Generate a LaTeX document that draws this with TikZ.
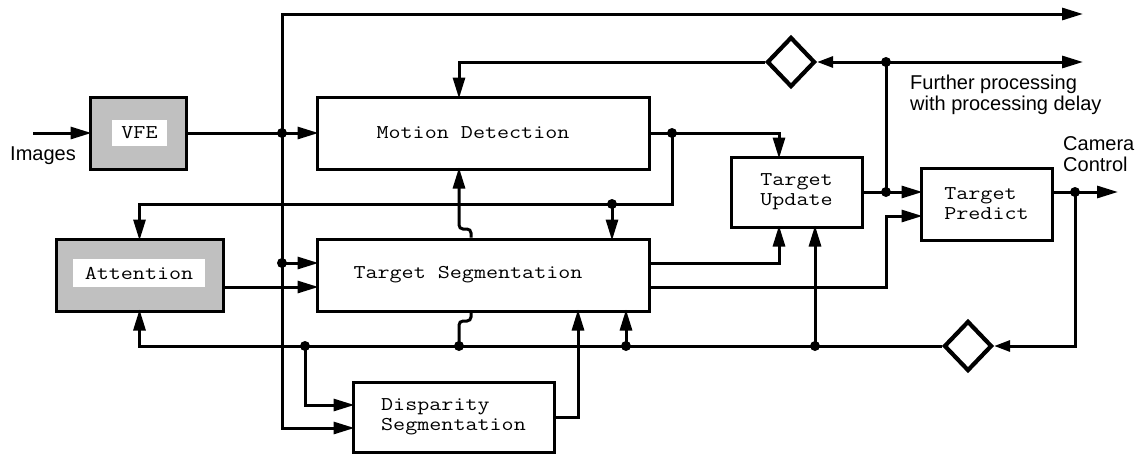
\documentclass[tikz,border=0pt]{standalone}
\usepackage{fontspec}
\setmainfont{Liberation Sans}
\setmonofont{Latin Modern Mono}[FakeStretch=1.2]
\usetikzlibrary{arrows.meta,shapes.geometric,calc}
\definecolor{boxgray}{RGB}{192,192,192}
\begin{document}
\begin{tikzpicture}[x=1pt,y=-1pt,
  blk/.style={draw,line width=3pt,rectangle,inner sep=0pt,fill=white,
    font=\ttfamily\fontsize{19.5}{20}\selectfont,align=center},
  gblk/.style={blk,fill=boxgray},
  lbl/.style={fill=white,inner sep=0pt,font=\ttfamily\fontsize{19.5}{20}\selectfont},
  conn/.style={line width=3pt},
  arr/.style={conn,-{Triangle[length=21pt,width=12pt]},shorten >=-3pt},
  sarr/.style={conn,-{Triangle[length=16pt,width=11pt]}},
  dia/.style={draw,diamond,line width=4.2pt,minimum width=48pt,minimum height=50pt,inner sep=0pt,fill=white},
  txt/.style={font=\fontsize{20}{21}\selectfont,inner sep=0pt,align=left}
]
\useasboundingbox (0,0) rectangle (1146,455);

% blocks
\node[gblk,minimum width=96pt,minimum height=72pt] (vfe) at (138,133) {};
\node[lbl,minimum width=55pt,minimum height=26pt] (vfel) at (139.5,133) {VFE};
\node[gblk,minimum width=167pt,minimum height=72pt] (att) at (139.5,275) {};
\node[lbl,minimum width=132pt,minimum height=28pt] (attl) at (139,273) {Attention};
\node[blk,minimum width=332pt,minimum height=72pt] (md) at (483,133) {Motion Detection\kern20pt};
\node[blk,minimum width=332pt,minimum height=72pt] (ts) at (483,275) {Target Segmentation\kern30pt};
\node[blk,minimum width=201pt,minimum height=70pt,align=left] (disp) at (453.5,417) {Disparity\\Segmentation};
\node[blk,minimum width=131pt,minimum height=70pt,align=left] (tu) at (796.5,192) {Target\\Update};
\node[blk,minimum width=131pt,minimum height=72pt,align=left] (tp) at (986.5,204) {Target\\Predict};
\node[dia] (d1) at (791,62) {};
\node[dia] (d2) at (968,346) {};

% labels
\node[txt,anchor=north west] (imgs) at (10,147) {Images};
\node[txt,anchor=north west] (fp) at (910,75) {Further processing\\with processing delay};
\node[txt,anchor=north west] (cc) at (1063,136) {Camera\\Control};

% junctions and free ends
\coordinate (imgin) at (33,133);
\coordinate (j1) at (282,133);
\coordinate (j2) at (282,263);
\coordinate (j3) at (886,62);
\coordinate (j4) at (886,192);
\coordinate (j5) at (672,133);
\coordinate (j6) at (612,204);
\coordinate (j7) at (459,346);
\coordinate (j8) at (305,346);
\coordinate (j9) at (626,346);
\coordinate (j10) at (815,346);
\coordinate (j11) at (1075,192);
\coordinate (out1) at (1080,14);
\coordinate (out2) at (1080,62);
\coordinate (out3) at (1115,192);
\coordinate (aout) at ([yshift=-12pt]att.east);
\coordinate (tso1) at ([yshift=12pt]ts.east);
\coordinate (tso2) at ([yshift=-12pt]ts.east);
\coordinate (tpin2) at ([yshift=-12pt]tp.west);
\coordinate (tpo) at ([yshift=12pt]tp.east);

% connectors
\draw[arr] (imgin) -- (vfe.west);
\draw[arr] (vfe.east) -- (md.west);
\draw[arr] (j1) |- (out1);
\draw[arr] (j1) |- ([yshift=-11pt]disp.west);
\draw[arr] (j2) -- (j2 -| ts.west);
\draw[arr] (aout) -- (aout -| ts.west);
\draw[arr] (d1.west) -| ([xshift=-24pt]md.north);
\draw[sarr] (j3) -- (d1.east);
\draw[arr] (j3) -- (out2);
\draw[conn] (j3) -- (j4);
\draw[arr] (tu.east) -- (tu.east -| tp.west);
\draw[arr] (md.east) -| ([xshift=-17.5pt]tu.north);
\draw[arr] (j5) |- (j6) -| (att.north);
\draw[arr] (j6) -- (j6 |- ts.north);
\draw[conn,rounded corners=4pt] (j7) -- (459,321) -- (471,321) -- ([xshift=-12pt]ts.south);
\draw[arr,rounded corners=4pt] ([xshift=-12pt]ts.north) -- (471,229) -- (459,229) -- ([xshift=-24pt]md.south);
\draw[arr] (d2.west) -| (att.south);
\draw[arr] (j8) |- ([yshift=12pt]disp.west);
\draw[arr] (j9) -- (j9 |- ts.south);
\draw[arr] (j10) -- (j10 |- tu.south);
\draw[arr] (tso1) -| ([xshift=-17.5pt]tu.south);
\draw[arr] (tso2) -| (tpin2 -| j4) -- (tpin2);
\draw[arr] (disp.east) -| ([xshift=95pt]ts.south);
\draw[arr] (tpo) -- (out3);
\draw[sarr] (j11) |- (d2.east);

% dots
\foreach \j in {j1,j2,j3,j4,j5,j6,j7,j8,j9,j10,j11}
  \fill (\j) circle (5pt);
\end{tikzpicture}
\end{document}
